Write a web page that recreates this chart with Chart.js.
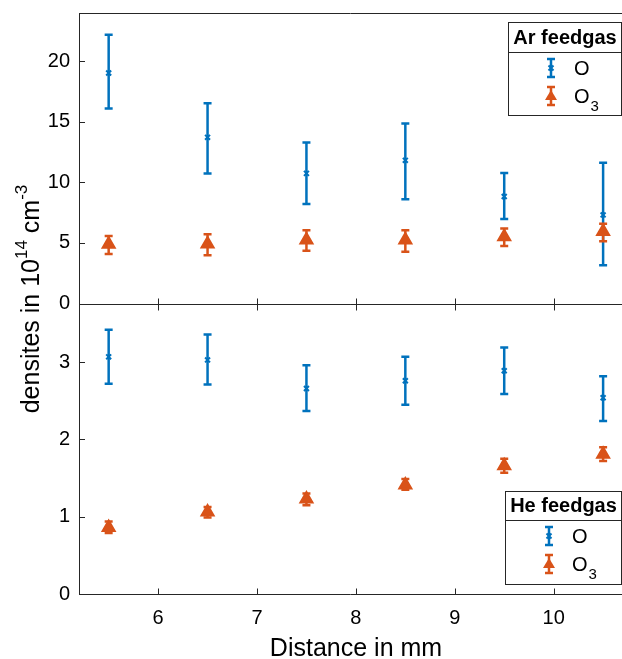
<!DOCTYPE html>
<html>
<head>
<meta charset="utf-8">
<script src="https://cdn.jsdelivr.net/npm/chart.js@4.4.0/dist/chart.umd.min.js"></script>
<style>
  body { margin: 0; background: #fff; }
</style>
</head>
<body>
<canvas id="chart" width="622" height="659"></canvas>
<script>
// distance positions (mm)
const distances = [5.5, 6.5, 7.5, 8.5, 9.5, 10.5];

// Ar feedgas (10^14 cm^-3)
const arO = [19.04, 13.73, 10.75, 11.83, 8.84, 7.32];
const arOLow = [16.1, 10.75, 8.23, 8.62, 6.99, 3.15];
const arOHigh = [22.2, 16.55, 13.3, 14.87, 10.78, 11.63];
const arO3 = [4.89, 4.92, 5.25, 5.25, 5.52, 5.94];
const arO3Low = [4.09, 3.98, 4.36, 4.28, 4.75, 5.14];
const arO3High = [5.58, 5.72, 6.05, 6.05, 6.19, 6.58];

// He feedgas (10^14 cm^-3)
const heO = [3.07, 3.03, 2.66, 2.76, 2.89, 2.54];
const heOLow = [2.72, 2.71, 2.37, 2.45, 2.59, 2.24];
const heOHigh = [3.42, 3.36, 2.96, 3.07, 3.19, 2.82];
const heO3 = [0.86, 1.06, 1.23, 1.41, 1.66, 1.81];
const heO3Low = [0.79, 0.99, 1.15, 1.35, 1.57, 1.72];
const heO3High = [0.94, 1.125, 1.30, 1.49, 1.75, 1.90];

const xTicks = [6, 7, 8, 9, 10];
const arTicks = [0, 5, 10, 15, 20];
const heTicks = [0, 1, 2, 3];

const BLUE = "#0072BD";
const ORANGE = "#D95319";
const AXIS = "#262626";
const FONT = "'Liberation Sans', Arial, sans-serif";

const points = (ys) => ys.map((y, i) => ({ x: distances[i], y }));

function dataset(label, ys, lo, hi, axis, color, style) {
  return {
    label,
    data: points(ys),
    lo,
    hi,
    yAxisID: axis,
    showLine: false,
    borderColor: color,
    backgroundColor: color,
    pointStyle: style,
    pointRadius: style === "triangle" ? 7 : 3.5,
    pointBorderWidth: 2,
  };
}

// error bars drawn under the markers
const errorBars = {
  id: "errorBars",
  beforeDatasetsDraw(chart) {
    const ctx = chart.ctx;
    const x = chart.scales.x;
    chart.data.datasets.forEach((ds) => {
      const y = chart.scales[ds.yAxisID];
      ctx.save();
      ctx.strokeStyle = ds.borderColor;
      ctx.lineWidth = 2.5;
      ds.data.forEach((p, i) => {
        const px = x.getPixelForValue(p.x);
        const top = y.getPixelForValue(ds.hi[i]);
        const bot = y.getPixelForValue(ds.lo[i]);
        ctx.beginPath();
        ctx.moveTo(px, top);
        ctx.lineTo(px, bot);
        ctx.moveTo(px - 4, top);
        ctx.lineTo(px + 4, top);
        ctx.moveTo(px - 4, bot);
        ctx.lineTo(px + 4, bot);
        ctx.stroke();
      });
      ctx.restore();
    });
  },
};

function legendIcon(ctx, cx, cy, color, triangle) {
  ctx.save();
  ctx.strokeStyle = color;
  ctx.fillStyle = color;
  ctx.lineWidth = 2.5;
  ctx.beginPath();
  ctx.moveTo(cx, cy - 9);
  ctx.lineTo(cx, cy + 9);
  ctx.moveTo(cx - 4, cy - 9);
  ctx.lineTo(cx + 4, cy - 9);
  ctx.moveTo(cx - 4, cy + 9);
  ctx.lineTo(cx + 4, cy + 9);
  ctx.stroke();
  if (triangle) {
    ctx.beginPath();
    ctx.moveTo(cx, cy - 6);
    ctx.lineTo(cx + 6, cy + 4);
    ctx.lineTo(cx - 6, cy + 4);
    ctx.closePath();
    ctx.fill();
  } else {
    ctx.lineWidth = 2;
    ctx.beginPath();
    ctx.moveTo(cx - 2.5, cy - 2.5);
    ctx.lineTo(cx + 2.5, cy + 2.5);
    ctx.moveTo(cx + 2.5, cy - 2.5);
    ctx.lineTo(cx - 2.5, cy + 2.5);
    ctx.stroke();
  }
  ctx.restore();
}

function drawLegend(ctx, box, title) {
  ctx.save();
  ctx.fillStyle = "#fff";
  ctx.fillRect(box.x0, box.y0, box.x1 - box.x0, box.y1 - box.y0);
  ctx.strokeStyle = AXIS;
  ctx.lineWidth = 1;
  ctx.strokeRect(box.x0 + 0.5, box.y0 + 0.5, box.x1 - box.x0 - 1, box.y1 - box.y0 - 1);
  ctx.beginPath();
  ctx.moveTo(box.x0, box.sep + 0.5);
  ctx.lineTo(box.x1, box.sep + 0.5);
  ctx.stroke();
  ctx.fillStyle = "#000";
  ctx.textAlign = "center";
  ctx.textBaseline = "middle";
  ctx.font = "bold 20px " + FONT;
  ctx.fillText(title, (box.x0 + box.x1) / 2, (box.y0 + box.sep) / 2 + 1);
  legendIcon(ctx, box.ix, box.r1, BLUE, false);
  legendIcon(ctx, box.ix, box.r2, ORANGE, true);
  ctx.textAlign = "left";
  ctx.font = "20px " + FONT;
  ctx.fillText("O", box.tx, box.r1 + 1);
  ctx.fillText("O", box.tx, box.r2 + 1);
  const w = ctx.measureText("O").width;
  ctx.font = "15px " + FONT;
  ctx.fillText("3", box.tx + w + 1, box.r2 + 11);
  ctx.restore();
}

const frame = {
  id: "frame",
  afterDraw(chart) {
    const ctx = chart.ctx;
    const x = chart.scales.x;
    const left = chart.chartArea.left;
    const right = 622;
    ctx.save();
    ctx.strokeStyle = AXIS;
    ctx.lineWidth = 1;
    ["yAr", "yHe"].forEach((id, k) => {
      const y = chart.scales[id];
      const top = Math.round(y.top) + 0.5;
      const bot = Math.round(y.bottom) + 0.5;
      ctx.beginPath();
      ctx.moveTo(left + 0.5, top);
      ctx.lineTo(left + 0.5, bot);
      ctx.moveTo(left, top);
      ctx.lineTo(right, top);
      ctx.moveTo(left, bot);
      ctx.lineTo(right, bot);
      y.ticks.forEach((t) => {
        const py = Math.round(y.getPixelForValue(t.value)) + 0.5;
        ctx.moveTo(left, py);
        ctx.lineTo(left + 6, py);
      });
      xTicks.forEach((v) => {
        const px = Math.round(x.getPixelForValue(v)) + 0.5;
        ctx.moveTo(px, bot);
        ctx.lineTo(px, bot - 6);
        if (k === 1) {
          ctx.moveTo(px, top);
          ctx.lineTo(px, top + 6);
        }
      });
      ctx.stroke();
    });

    // axis titles
    ctx.fillStyle = "#000";
    ctx.textBaseline = "alphabetic";
    ctx.textAlign = "center";
    ctx.font = "25px " + FONT;
    ctx.fillText("Distance in mm", 356, 656);

    ctx.translate(39, 299);
    ctx.rotate(-Math.PI / 2);
    const parts = [
      ["densites in 10", 25, 0],
      ["14", 17, -12],
      [" cm", 25, 0],
      ["-3", 17, -12],
    ];
    let total = 0;
    parts.forEach((p) => {
      ctx.font = p[1] + "px " + FONT;
      total += ctx.measureText(p[0]).width;
    });
    ctx.textAlign = "left";
    let cx = -total / 2;
    parts.forEach((p) => {
      ctx.font = p[1] + "px " + FONT;
      ctx.fillText(p[0], cx, p[2]);
      cx += ctx.measureText(p[0]).width;
    });
    ctx.restore();

    drawLegend(ctx, { x0: 508, x1: 622, y0: 22, sep: 52, y1: 116, r1: 68, r2: 96, ix: 551, tx: 574 }, "Ar feedgas");
    drawLegend(ctx, { x0: 505, x1: 622, y0: 491, sep: 520, y1: 585, r1: 536, r2: 564, ix: 549, tx: 572 }, "He feedgas");
  },
};

const yScale = (min, max, ticks) => ({
  type: "linear",
  position: "left",
  stack: "panels",
  stackWeight: 1,
  min,
  max,
  grid: { display: false },
  border: { display: false },
  ticks: { font: { size: 20, family: FONT }, color: "#000", padding: 1 },
  afterBuildTicks: (s) => { s.ticks = ticks.map((v) => ({ value: v })); },
  afterFit: (s) => { s.width = 79; },
});

new Chart(document.getElementById("chart"), {
  type: "scatter",
  data: {
    datasets: [
      dataset("O", arO, arOLow, arOHigh, "yAr", BLUE, "crossRot"),
      dataset("O3", arO3, arO3Low, arO3High, "yAr", ORANGE, "triangle"),
      dataset("O", heO, heOLow, heOHigh, "yHe", BLUE, "crossRot"),
      dataset("O3", heO3, heO3Low, heO3High, "yHe", ORANGE, "triangle"),
    ],
  },
  options: {
    responsive: false,
    animation: false,
    devicePixelRatio: 1,
    layout: { padding: { top: 5, right: 0, left: 0, bottom: 0 } },
    plugins: { legend: { display: false }, tooltip: { enabled: false } },
    scales: {
      x: {
        type: "linear",
        min: 5.2,
        max: 10.6,
        grid: { display: false },
        border: { display: false },
        ticks: { font: { size: 20, family: FONT }, color: "#000", padding: 4 },
        afterBuildTicks: (s) => { s.ticks = xTicks.map((v) => ({ value: v })); },
        afterFit: (s) => { s.height = 65; },
      },
      yHe: yScale(0, 3.76, heTicks),
      yAr: yScale(0, 24, arTicks),
    },
  },
  plugins: [errorBars, frame],
});
</script>
</body>
</html>
